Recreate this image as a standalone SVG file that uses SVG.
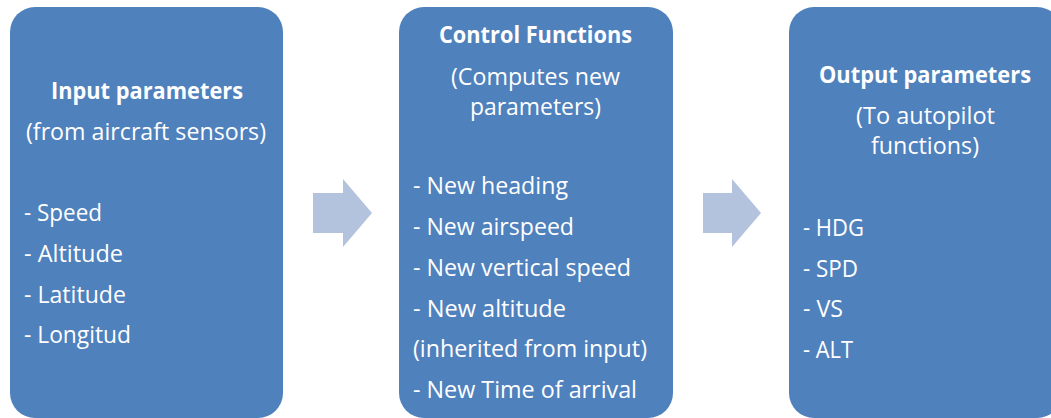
<svg xmlns="http://www.w3.org/2000/svg" width="1051" height="418" viewBox="0 0 1051 418">
  <style>
    .box { fill: #4F81BD; }
    .flow { fill: #B3C3DE; }
    text { font-family: "Open Sans", "Noto Sans", "Liberation Sans", sans-serif; fill: #FFFFFF; font-size: 23px; }
    .title { font-weight: bold; text-anchor: middle; }
    .mid { text-anchor: middle; }
  </style>

  <!-- Input stage -->
  <g id="input-parameters">
    <rect class="box" x="10" y="7" width="273" height="411" rx="25" ry="25"/>
    <text class="title" x="147" y="99" textLength="192" lengthAdjust="spacingAndGlyphs">Input parameters</text>
    <text class="mid" x="146" y="140" textLength="240" lengthAdjust="spacingAndGlyphs">(from aircraft sensors)</text>
    <text x="24" y="221" textLength="78" lengthAdjust="spacingAndGlyphs">- Speed</text>
    <text x="24" y="262" textLength="99" lengthAdjust="spacingAndGlyphs">- Altitude</text>
    <text x="24" y="303" textLength="102" lengthAdjust="spacingAndGlyphs">- Latitude</text>
    <text x="24" y="343" textLength="107" lengthAdjust="spacingAndGlyphs">- Longitud</text>
  </g>

  <!-- Control stage -->
  <g id="control-functions">
    <rect class="box" x="399" y="7" width="274" height="411" rx="25" ry="25"/>
    <text class="title" x="535.5" y="43" textLength="193" lengthAdjust="spacingAndGlyphs">Control Functions</text>
    <text class="mid" x="535.5" y="85" textLength="169" lengthAdjust="spacingAndGlyphs">(Computes new</text>
    <text class="mid" x="535.5" y="115" textLength="131" lengthAdjust="spacingAndGlyphs">parameters)</text>
    <text x="413" y="194" textLength="155" lengthAdjust="spacingAndGlyphs">- New heading</text>
    <text x="413" y="235" textLength="161" lengthAdjust="spacingAndGlyphs">- New airspeed</text>
    <text x="413" y="276" textLength="218" lengthAdjust="spacingAndGlyphs">- New vertical speed</text>
    <text x="413" y="317" textLength="153" lengthAdjust="spacingAndGlyphs">- New altitude</text>
    <text x="413" y="357" textLength="234" lengthAdjust="spacingAndGlyphs">(inherited from input)</text>
    <text x="413" y="398" textLength="224" lengthAdjust="spacingAndGlyphs">- New Time of arrival</text>
  </g>

  <!-- Output stage -->
  <g id="output-parameters">
    <rect class="box" x="789" y="7" width="273" height="411" rx="25" ry="25"/>
    <text class="title" x="925" y="83" textLength="212" lengthAdjust="spacingAndGlyphs">Output parameters</text>
    <text class="mid" x="925.5" y="124" textLength="139" lengthAdjust="spacingAndGlyphs">(To autopilot</text>
    <text class="mid" x="925" y="154" textLength="108" lengthAdjust="spacingAndGlyphs">functions)</text>
    <text x="803" y="236" textLength="61" lengthAdjust="spacingAndGlyphs">- HDG</text>
    <text x="803" y="277" textLength="55" lengthAdjust="spacingAndGlyphs">- SPD</text>
    <text x="803" y="317" textLength="40" lengthAdjust="spacingAndGlyphs">- VS</text>
    <text x="803" y="358" textLength="50" lengthAdjust="spacingAndGlyphs">- ALT</text>
  </g>

  <!-- Block arrows between stages -->
  <g id="connectors">
    <polygon class="flow" points="313,193 343,193 343,179 372,213 343,247 343,233 313,233"/>
    <polygon class="flow" points="703,193 732,193 732,179 761,213 732,247 732,233 703,233"/>
  </g>
</svg>
